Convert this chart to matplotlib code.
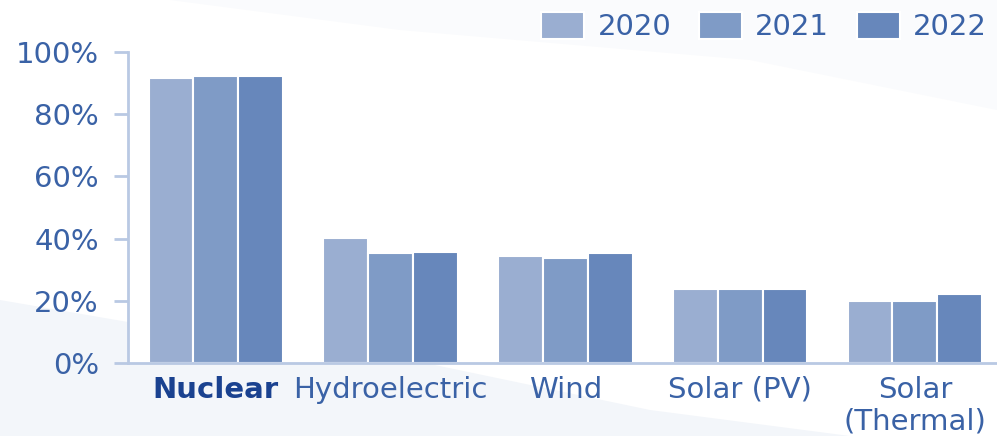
import matplotlib
matplotlib.use("Agg")
import matplotlib.pyplot as plt
import numpy as np
from matplotlib.patches import Polygon

categories = ["Nuclear", "Hydroelectric", "Wind", "Solar (PV)", "Solar\n(Thermal)"]
years = ["2020", "2021", "2022"]
v2020 = [91.7, 40.1, 34.5, 23.7, 20.0]
v2021 = [92.4, 35.3, 33.8, 23.7, 19.9]
v2022 = [92.4, 35.7, 35.3, 23.7, 22.2]
series = [v2020, v2021, v2022]
colors = ["#9aaed1", "#7f9bc6", "#6787bb"]
text_color = "#3a62a6"
axis_color = "#b9c9e3"
FS = 21

W, H = 997, 436
fig = plt.figure(figsize=(W / 100, H / 100), dpi=100)
fig.patch.set_facecolor("white")

# background layer
bg = fig.add_axes([0, 0, 1, 1], zorder=-5)
bg.set_xlim(0, W)
bg.set_ylim(H, 0)
bg.axis("off")
bg.add_patch(Polygon([(0, 436), (0, 300), (128, 322), (128, 364), (430, 364),
                      (650, 410), (850, 436)],
                     closed=True, facecolor="#f3f6fa", edgecolor="none"))
bg.add_patch(Polygon([(170, 0), (997, 0), (997, 110), (750, 60), (400, 30)],
                     closed=True, facecolor="#fafbfd", edgecolor="none"))

left, right = 128 / W, 997 / W
bottom, top = 1 - 363 / H, 1 - 52 / H
ax = fig.add_axes([left, bottom, right - left, top - bottom], zorder=1)
ax.patch.set_alpha(0.0)

x = np.arange(len(categories))
bw = 0.257
handles = []
for i, (vals, c) in enumerate(zip(series, colors)):
    h = ax.bar(x + (i - 1) * bw, vals, width=bw, color=c, edgecolor="white",
               linewidth=1.5, label=years[i], zorder=2)
    handles.append(h)

ax.set_ylim(0, 100)
ax.set_xlim(-0.503, 4.47)
ax.set_yticks([0, 20, 40, 60, 80, 100])
ax.set_yticklabels([f"{v}%" for v in [0, 20, 40, 60, 80, 100]])
ax.set_xticks(x)
ax.set_xticklabels(categories)

for s in ["top", "right"]:
    ax.spines[s].set_visible(False)
for s in ["left", "bottom"]:
    ax.spines[s].set_color(axis_color)
    ax.spines[s].set_linewidth(2)

ax.tick_params(axis="y", length=10, width=2, color=axis_color, pad=11,
               labelsize=FS, labelcolor=text_color)
ax.tick_params(axis="x", length=0, pad=9, labelsize=FS, labelcolor=text_color)
xl = ax.get_xticklabels()
xl[0].set_fontweight("bold")
xl[0].set_color("#1a4290")

leg = fig.legend(handles=handles, labels=years, loc="upper right",
                 bbox_to_anchor=(993 / W, 1 - 6 / H), bbox_transform=fig.transFigure,
                 ncol=3, frameon=False, fontsize=FS, handlelength=1.48, handleheight=1.05,
                 columnspacing=0.95, handletextpad=0.45, borderaxespad=0, borderpad=0.2)
for t in leg.get_texts():
    t.set_color(text_color)

fig.savefig("out.png", dpi=100)
